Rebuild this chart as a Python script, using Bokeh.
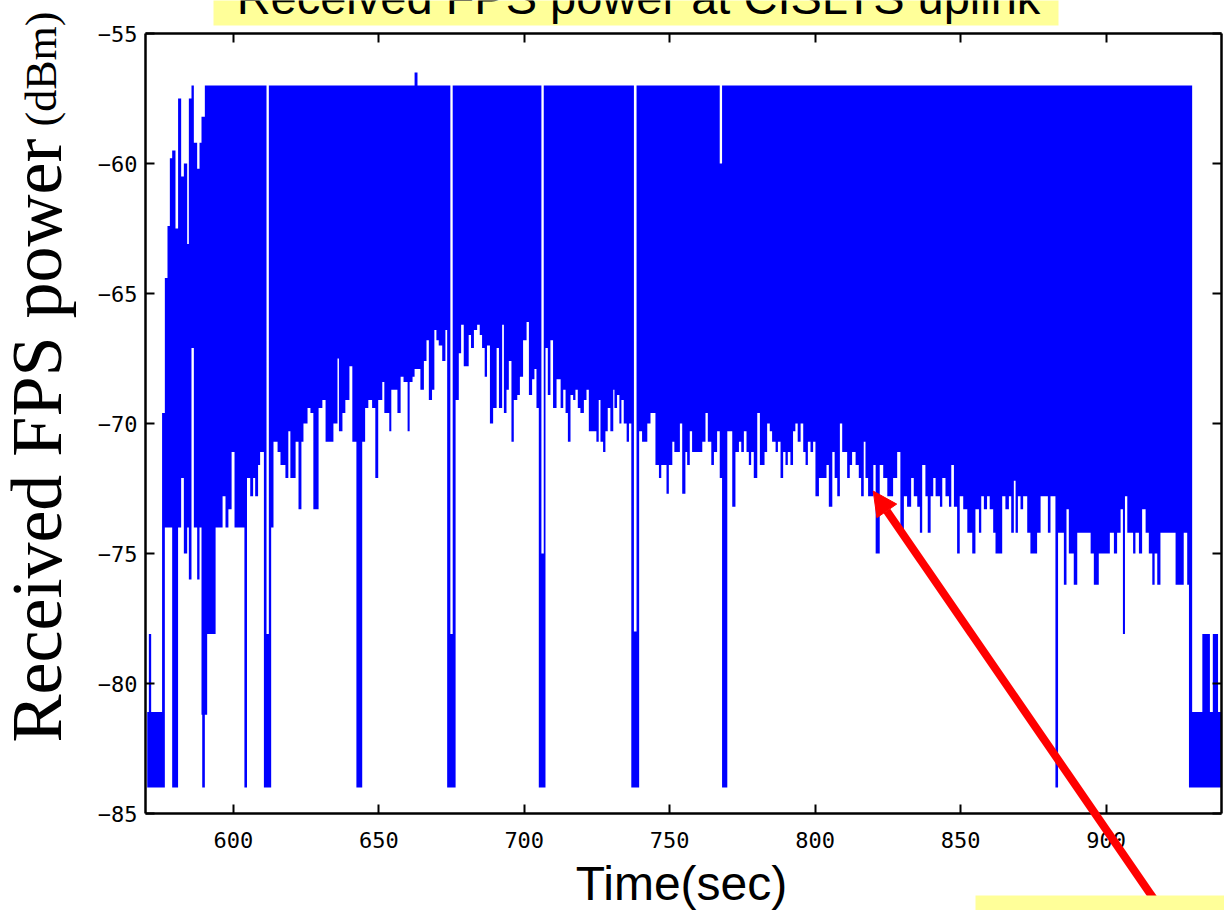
from math import pi
from bokeh.plotting import figure
from bokeh.models import (Range1d, FixedTicker, LinearAxis, Label, BoxAnnotation,
                          Arrow, NormalHead, ColumnDataSource)
from bokeh.embed import file_html
from bokeh.resources import INLINE

# ---------------- data ----------------
TOP_DBM = -57.0          # ceiling of the received power trace
X_START, X_END = 569.8, 939.7   # time axis limits (sec)
Y_MIN, Y_MAX = -85.0, -55.0     # power axis limits (dBm)
SEG_END = X_END

# start time (sec) of each step segment and the lowest level reached in it (dBm)
seg_start = [
    570.4, 570.95, 571.75, 575.5, 576.45, 577.36, 578.17, 578.97, 580.11, 581.0,
    582.06, 582.98, 584.13, 584.7, 585.61, 586.42, 587.56, 588.37, 589.05, 589.3,
    590.2, 591.0, 593.9, 596.3, 597.3, 598.3, 599.4, 600.4, 603.8, 604.7,
    605.8, 606.8, 607.5, 608.5, 609.2, 610.5, 611.4, 612.2, 613.0, 613.8,
    615.2, 616.2, 617.9, 618.9, 619.6, 621.4, 622.4, 623.4, 624.1, 625.5,
    626.5, 627.5, 629.3, 630.6, 631.7, 634.4, 635.8, 636.3, 637.5, 638.5,
    639.9, 640.9, 642.3, 644.3, 645.3, 646.4, 647.7, 648.8, 649.8, 651.2,
    651.9, 653.6, 654.3, 656.4, 657.5, 658.5, 659.9, 660.6, 661.6, 662.3,
    663.3, 664.3, 665.5, 666.4, 667.2, 668.3, 669.1, 669.8, 670.6, 671.8,
    672.9, 673.5, 674.6, 675.4, 676.4, 677.5, 678.3, 679.2, 680.9, 681.7,
    682.7, 683.8, 684.7, 685.5, 686.4, 687.2, 688.2, 689.3, 690.5, 691.3,
    692.4, 693.0, 693.9, 694.7, 695.6, 696.4, 697.6, 698.5, 699.6, 700.8,
    701.6, 702.7, 703.5, 704.2, 705.0, 705.9, 706.7, 707.3, 708.1, 709.0,
    709.9, 711.1, 712.5, 713.4, 714.2, 715.0, 715.9, 716.8, 717.6, 718.4,
    719.3, 720.5, 721.4, 722.2, 724.8, 725.6, 726.2, 727.1, 727.9, 728.7,
    729.6, 730.6, 731.0, 731.9, 732.7, 733.4, 734.2, 735.2, 736.0, 736.8,
    737.7, 738.6, 739.5, 740.5, 742.3, 743.4, 745.1, 746.3, 747.1, 748.9,
    749.7, 750.9, 751.6, 753.5, 754.3, 755.4, 756.0, 756.9, 757.7, 761.2,
    762.3, 763.1, 764.3, 765.2, 766.3, 767.2, 768.0, 769.8, 771.5, 772.6,
    773.8, 774.6, 775.5, 776.4, 777.2, 778.0, 778.9, 780.1, 781.0, 782.6,
    783.5, 784.4, 785.2, 786.4, 787.2, 788.1, 789.0, 789.8, 790.6, 791.5,
    792.4, 793.2, 794.0, 795.0, 795.9, 796.7, 797.5, 798.4, 799.3, 800.1,
    801.3, 803.9, 804.7, 805.9, 806.7, 807.6, 808.5, 809.3, 811.0, 811.9,
    812.7, 813.9, 815.0, 815.8, 816.7, 817.3, 818.2, 820.0, 820.8, 822.2,
    823.4, 824.8, 826.8, 828.2, 829.3, 830.5, 831.6, 833.0, 833.9, 835.1,
    836.0, 836.8, 837.9, 838.7, 839.7, 840.6, 841.4, 842.9, 843.7, 844.8,
    846.0, 846.8, 847.7, 848.8, 849.7, 850.9, 852.3, 854.0, 855.1, 856.3,
    857.1, 858.0, 859.1, 860.0, 861.2, 862.0, 864.3, 865.4, 866.6, 867.4,
    868.3, 868.9, 869.7, 870.6, 871.5, 872.9, 874.0, 876.3, 877.5, 880.0,
    880.9, 882.6, 883.5, 885.5, 886.4, 887.2, 888.9, 890.1, 894.7, 895.8,
    897.5, 901.3, 902.7, 903.8, 905.0, 905.8, 906.5, 907.3, 909.3, 910.1,
    911.3, 912.4, 913.6, 914.7, 915.9, 916.7, 917.6, 918.7, 923.9, 926.7,
    927.9, 928.5, 929.6, 933.1, 935.7, 936.7, 938.5,
]
seg_low = [
    -84, -84, -84, -84, -74, -74, -74, -84, -84, -74,
    -72.1, -75, -74, -76, -67.1, -74, -76, -74, -81.2, -84,
    -81.2, -78.1, -74, -72.8, -74, -73.3, -71.1, -74, -84, -72.1,
    -72.8, -72.1, -72.8, -71.6, -71.1, -84, -84, -84, -74, -70.7,
    -71.1, -71.6, -72.1, -70.3, -72.1, -70.7, -73.3, -70.7, -70, -69.4,
    -69.6, -73.3, -69.4, -69.1, -70.7, -70, -67.5, -70.3, -69.6, -69.1,
    -67.8, -70.7, -84, -70.7, -69.4, -69.1, -69.4, -72.1, -69.1, -68.4,
    -69.6, -70.3, -68.7, -69.6, -68.2, -68.4, -70.3, -68.4, -68.2, -67.9,
    -67.9, -68.7, -67.6, -66.8, -69.1, -68.7, -66.4, -66.8, -67.0, -67.6,
    -66.4, -84, -84, -84, -69.1, -67.3, -66.2, -67.8, -66.6, -67.1,
    -66.4, -66.2, -66.6, -67.1, -68.2, -67.0, -70, -69.4, -67.1, -69.4,
    -66.2, -69.6, -68.7, -67.6, -70.7, -69.1, -68.9, -68.2, -66.8, -66.1,
    -68.9, -68.3, -67.9, -69.4, -84, -84, -84, -67.1, -68.9, -66.8,
    -69.4, -68.3, -69.4, -68.7, -69.6, -70.7, -68.9, -69.1, -68.7, -69.4,
    -69.6, -69.1, -68.7, -70.3, -70.7, -69.1, -70.7, -71.1, -70.3, -69.4,
    -70.3, -68.7, -69.4, -68.9, -70, -69.1, -70, -70.7, -70, -84,
    -84, -84, -70.3, -70.7, -70, -69.6, -71.6, -72.1, -71.6, -72.7,
    -71.6, -70.7, -71.1, -70, -72.7, -71.1, -71.6, -70.3, -71.1, -70.7,
    -69.6, -70.7, -71.6, -71.1, -70.3, -72.1, -84, -70.3, -73.2, -71.1,
    -70.7, -71.1, -70.3, -71.1, -71.6, -71.1, -72.1, -69.6, -71.6, -71.1,
    -70, -70.3, -70.7, -71.1, -70.7, -72.1, -71.1, -71.6, -71.1, -71.6,
    -70.3, -70, -70.7, -70, -71.1, -71.6, -70.7, -71.1, -70.7, -72.8,
    -72.1, -71.6, -73.2, -71.1, -72.1, -72.8, -70, -71.1, -72.1, -71.6,
    -71.1, -71.6, -72.1, -72.8, -70.7, -72.1, -72.8, -71.6, -75, -71.6,
    -72.1, -72.8, -72.1, -71.1, -74.2, -72.8, -73.2, -72.1, -72.8, -73.2,
    -74.2, -71.6, -72.8, -74.2, -72.8, -72.1, -72.8, -73.2, -72.1, -72.8,
    -73.2, -71.6, -73.2, -75, -72.8, -73.3, -74.2, -75, -73.3, -74.2,
    -72.8, -73.3, -72.8, -73.3, -74.2, -75, -72.8, -73.3, -72.8, -74.2,
    -72.2, -74.2, -72.8, -73.3, -72.8, -74.2, -75, -74.2, -72.8, -74.2,
    -72.8, -84, -74.2, -76.2, -73.3, -75, -76.2, -74.2, -75, -76.2,
    -75, -74.2, -75, -74.2, -73.3, -78.1, -72.8, -74.2, -75, -74.2,
    -75, -73.3, -74.2, -75, -76.2, -75, -76.2, -74.2, -76.2, -74.2,
    -76.2, -84, -84, -84, -84, -84, -84,
]
# segments whose upper level is below the -57 dBm ceiling (or the one peak above it)
top_t = [570.4, 570.95, 571.75, 575.5, 576.45, 577.36, 578.17, 578.97, 580.11, 581.0,
         582.06, 582.98, 584.13, 584.7, 586.42, 587.56, 588.37, 589.05, 589.3, 611.4,
         662.3, 674.6, 705.9, 737.7, 767.2, 929.6, 933.1, 935.7, 936.7, 938.5]
top_v = [-81.1, -78.1, -81.1, -69.6, -64.4, -62.4, -59.8, -59.5, -62.5, -57.5,
         -60.5, -60, -63.1, -57.5, -59.2, -60.2, -59.2, -58.2, -58.2, -78.1,
         -56.5, -78.1, -75, -78, -60, -81.1, -78.1, -81.1, -78.1, -81.1]

x_ticks = [600, 650, 700, 750, 800, 850, 900]
y_ticks = [-85, -80, -75, -70, -65, -60, -55]

title_text = "Received FPS power at CISLTS uplink"
x_title = "Time(sec)"
y_title_main = "Received FPS power"
y_title_unit = "(dBm)"

arrow_tail = (917.0, -88.38)
arrow_tip = (819.96, -72.60)

# ---------------- build table ----------------
top_map = {round(t, 2): v for t, v in zip(top_t, top_v)}
seg_high = [top_map.get(round(t, 2), TOP_DBM) for t in seg_start]
src = ColumnDataSource(dict(
    t=seg_start + [SEG_END],
    lo=seg_low + [seg_low[-1]],
    hi=seg_high + [seg_high[-1]],
))

# ---------------- figure ----------------
W, H = 1224, 910
BOX_L, BOX_T = 145, 33          # pixel position of the axes box (left, top)
PX_PER_S = 2.909
PX_PER_DB = 26.0
x_lo = X_START - BOX_L / PX_PER_S
x_hi = X_START + (W - BOX_L) / PX_PER_S
y_hi = Y_MAX + BOX_T / PX_PER_DB
y_lo = Y_MAX - (H - BOX_T) / PX_PER_DB

p = figure(width=W, height=H,
           x_range=Range1d(x_lo, x_hi), y_range=Range1d(y_lo, y_hi),
           output_backend="svg", toolbar_location=None,
           min_border=0, min_border_left=0, min_border_right=0,
           min_border_top=0, min_border_bottom=0,
           background_fill_color="white", border_fill_color="white")
p.title.visible = False
p.grid.visible = False
p.outline_line_color = None

p.varea_step(x="t", y1="lo", y2="hi", step_mode="after", source=src,
             fill_color="#0000FF", fill_alpha=1.0)

TICK_FONT = "DejaVu Sans Mono"


def style_axis(ax, ticks, bounds, loc, show_labels):
    ax.ticker = FixedTicker(ticks=ticks)
    ax.bounds = bounds
    ax.fixed_location = loc
    ax.major_tick_in = 9
    ax.major_tick_out = 0
    ax.minor_tick_in = 0
    ax.minor_tick_out = 0
    ax.axis_line_width = 2.5
    ax.axis_line_color = "black"
    ax.major_tick_line_width = 2
    ax.major_tick_line_color = "black"
    ax.major_label_text_font = TICK_FONT
    ax.major_label_text_font_size = "22px"
    ax.major_label_text_color = "black"
    if not show_labels:
        ax.major_label_text_alpha = 0


xa = p.xaxis[0]
ya = p.yaxis[0]
style_axis(xa, x_ticks, (X_START, X_END), Y_MIN, True)
style_axis(ya, y_ticks, (Y_MIN, Y_MAX), X_START, True)
xa.major_label_standoff = 18
ya.major_label_standoff = 8

top_ax = LinearAxis()
right_ax = LinearAxis()
p.add_layout(top_ax, "above")
p.add_layout(right_ax, "right")
style_axis(top_ax, x_ticks, (X_START, X_END), Y_MAX, False)
style_axis(right_ax, y_ticks, (Y_MIN, Y_MAX), X_END, False)

# axis titles
p.add_layout(Label(x=36, y=H - 742, x_units="screen", y_units="screen",
                   text=y_title_main, angle=pi / 2,
                   text_font="Liberation Serif", text_font_size="72px",
                   text_align="left", text_baseline="alphabetic", text_color="black"))
p.add_layout(Label(x=41, y=H - 126, x_units="screen", y_units="screen",
                   text=y_title_unit, angle=pi / 2,
                   text_font="Liberation Serif", text_font_size="44px",
                   text_align="left", text_baseline="alphabetic", text_color="black"))
p.add_layout(Label(x=681, y=H - 900 + 17, x_units="screen", y_units="screen",
                   text=x_title,
                   text_font="Liberation Sans", text_font_size="48px",
                   text_align="center", text_baseline="alphabetic", text_color="black"))

# red arrow
p.add_layout(Arrow(end=NormalHead(size=24, fill_color="#FF0000", line_color="#FF0000"),
                   x_start=arrow_tail[0], y_start=arrow_tail[1],
                   x_end=arrow_tip[0], y_end=arrow_tip[1],
                   line_color="#FF0000", line_width=8))

# yellow title box (cut at the top edge as in the picture)
p.add_layout(BoxAnnotation(left=213, right=1058, top=H + 10, bottom=H - 25,
                           left_units="screen", right_units="screen",
                           top_units="screen", bottom_units="screen",
                           fill_color="#FFFF99", fill_alpha=1.0, line_alpha=0))
p.add_layout(Label(x=638, y=H - 13 + 16, x_units="screen", y_units="screen",
                   text=title_text, text_font="Liberation Sans", text_font_size="47px",
                   text_align="center", text_baseline="alphabetic", text_color="black"))
# yellow box at the bottom right
p.add_layout(BoxAnnotation(left=975, right=W + 5, top=15, bottom=-5,
                           left_units="screen", right_units="screen",
                           top_units="screen", bottom_units="screen",
                           fill_color="#FFFF99", fill_alpha=1.0, line_alpha=0))

open("out.html", "w").write(file_html(p, INLINE))
